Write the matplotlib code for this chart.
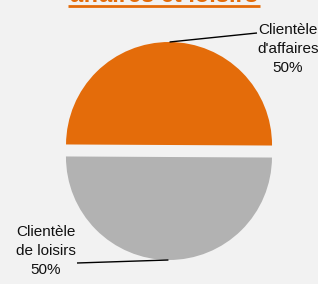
"""Pie: clientele affaires / loisirs."""

import numpy as np
import matplotlib
matplotlib.use("Agg")
import matplotlib.pyplot as plt

# data
labels = ["Clientèle\nd'affaires", "Clientèle\nde loisirs"]
shares = [50, 50]
colors = ["#E46C0A", "#B2B2B2"]
title = "affaires et loisirs"

W, H = 318, 284
bg = "#F2F2F2"
plt.rcParams['font.family'] = ['Liberation Sans', 'DejaVu Sans']

fig = plt.figure(figsize=(W/100, H/100), dpi=100, facecolor=bg)
ax = fig.add_axes([0, 0, 1, 1])
ax.set_facecolor(bg)

cx, cy, r = 169, H - 151, 103
gap = 6  # explode offset, data units (= pixels here)
wedges, _ = ax.pie(shares, colors=colors, startangle=-0.3, counterclock=True,
                   explode=[gap]*len(shares), radius=r, center=(cx, cy),
                   wedgeprops=dict(edgecolor='none'))
ax.set_xlim(0, W); ax.set_ylim(0, H)
ax.set_aspect('auto')
ax.axis('off')

# labels with leader lines (start at the outer point of each wedge)
label_pos = [(288, H - 49), (46, H - 251)]
line_end = [(257, H - 33), (77, H - 263)]
for w, lab, s, (tx, ty), (lx, ly) in zip(wedges, labels, shares,
                                         label_pos, line_end):
    mid = np.deg2rad(0.5*(w.theta1 + w.theta2))
    d = r + gap
    px, py = cx + d*np.cos(mid), cy + d*np.sin(mid)
    ax.plot([px, lx], [py, ly], color='black', lw=1.0, solid_capstyle='butt')
    ax.text(tx, ty, "%s\n%d%%" % (lab, s), ha='center', va='center',
            fontsize=11, color='#111111', linespacing=1.5)

# title, only its lower part shows in the frame
ax.text(164, H - 2, title, ha='center', va='baseline', fontsize=17,
        fontweight='bold', color=colors[0], clip_on=False)
ax.plot([68, 260], [H - 6, H - 6], color=colors[0], lw=2.0,
        solid_capstyle='butt')

fig.savefig("out.png", dpi=100, facecolor=bg)
